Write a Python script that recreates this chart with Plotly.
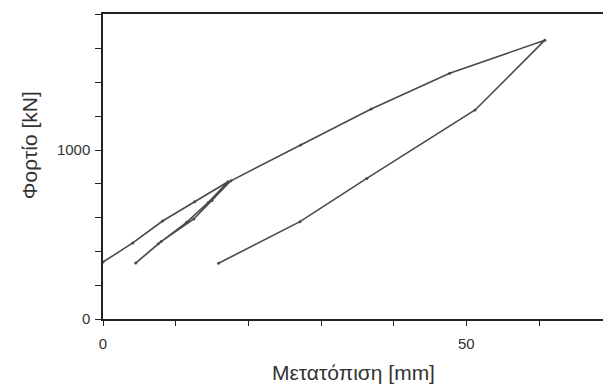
import plotly.graph_objects as go

# Load-displacement path
displacement_mm = [0.0, 4.1, 8.2, 12.6, 17.2,
                   14.5, 11.5, 7.6, 4.5,
                   8.0, 12.5, 15.0, 17.6,
                   27.2, 36.9, 47.7, 60.8,
                   51.2, 36.3, 27.1, 15.9]
load_kN = [337, 450, 580, 694, 812,
           690, 572, 445, 331,
           458, 592, 702, 818,
           1030, 1243, 1454, 1650,
           1237, 832, 576, 330]

x_title = "Μετατόπιση [mm]"
y_title = "Φορτίο [kN]"

fig = go.Figure()
fig.add_trace(go.Scatter(
    x=displacement_mm, y=load_kN, mode="lines+markers",
    line=dict(color="#4a4a4a", width=1.6),
    marker=dict(size=3, color="#4a4a4a"),
    showlegend=False, cliponaxis=False))

font = "Liberation Sans, Arial, sans-serif"
fig.update_layout(
    width=604, height=385,
    margin=dict(l=103, r=1, t=14, b=66),
    paper_bgcolor="white", plot_bgcolor="white",
    font=dict(family=font, size=15, color="#333333"),
    xaxis=dict(range=[0, 68.8], showgrid=False, zeroline=False,
               showline=True, linecolor="#222", linewidth=1.5, mirror=True,
               tickmode="linear", tick0=0, dtick=50, ticks="outside", ticklen=5,
               tickcolor="#222", ticklabelstandoff=5,
               minor=dict(dtick=10, ticks="outside", ticklen=5, tickcolor="#222"),
               tickfont=dict(size=15, family=font, color="#333")),
    yaxis=dict(range=[0, 1805], showgrid=False, zeroline=False,
               showline=True, linecolor="#222", linewidth=1.5, mirror=False,
               tickmode="linear", tick0=0, dtick=1000, ticks="outside", ticklen=6,
               tickcolor="#222", ticklabelstandoff=2,
               minor=dict(dtick=200, ticks="outside", ticklen=6, tickcolor="#222"),
               tickfont=dict(size=15, family=font, color="#333")),
    annotations=[
        dict(text=x_title, xref="paper", yref="paper", x=0.5, y=0,
             yshift=-53, showarrow=False, yanchor="middle",
             font=dict(size=21, family=font, color="#333")),
        dict(text=y_title, xref="paper", yref="paper", x=0, y=0.57,
             xshift=-74, showarrow=False, textangle=-90, xanchor="center",
             font=dict(size=21, family=font, color="#333")),
    ],
)

fig.write_html("out.html", config={"displayModeBar": False},
               post_script="document.body.style.margin='0';document.body.style.overflow='hidden';")
